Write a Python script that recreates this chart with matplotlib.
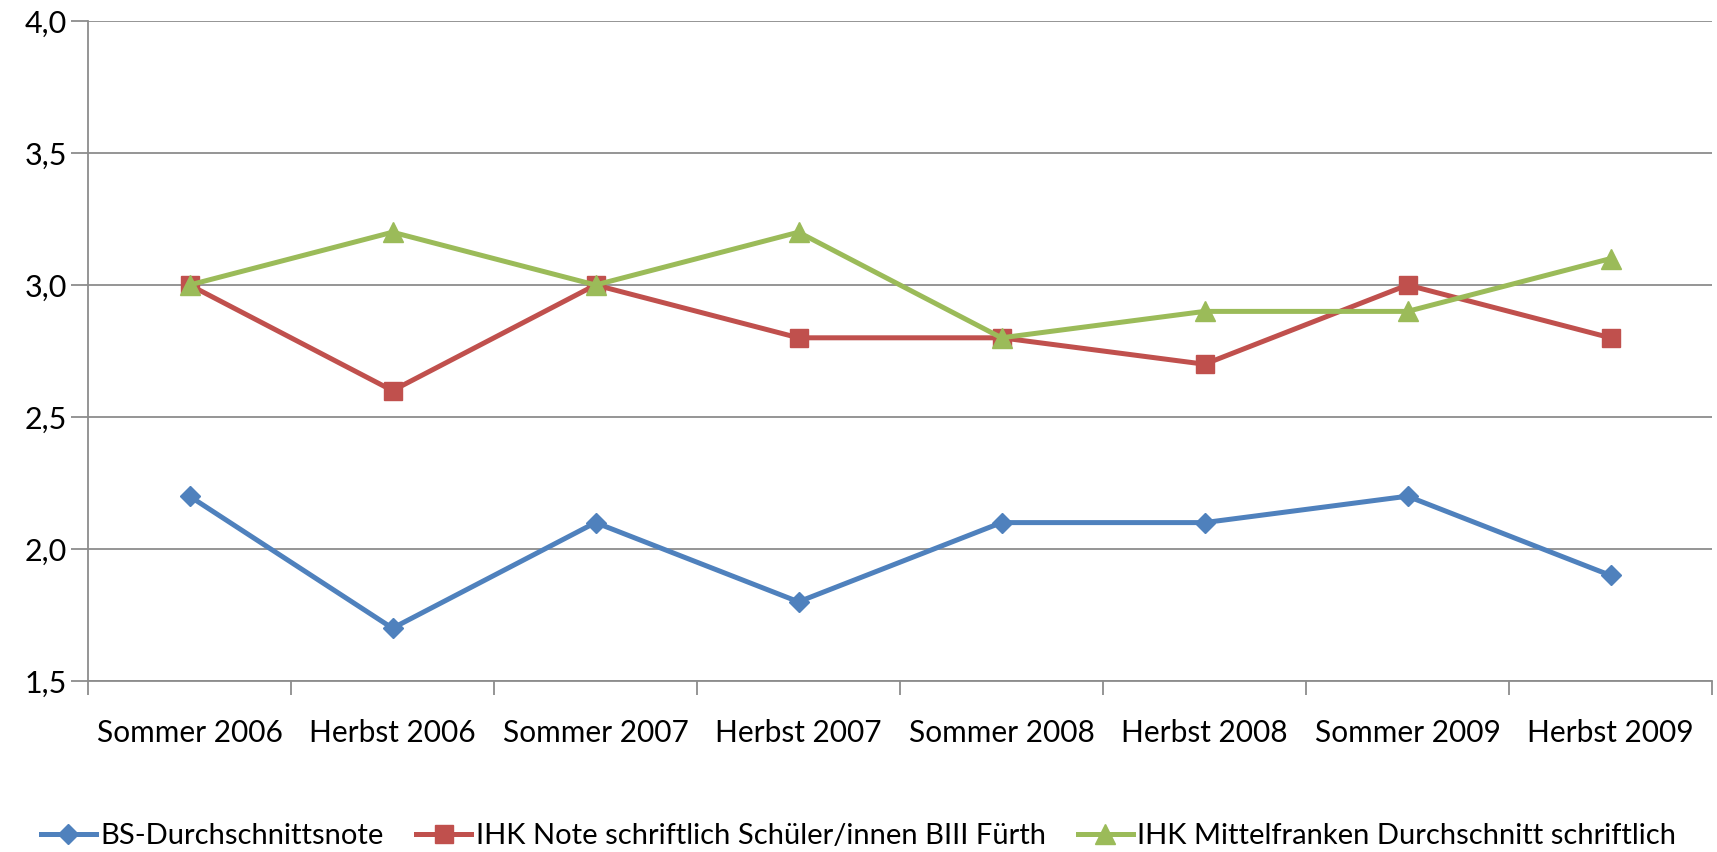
import matplotlib
matplotlib.use("Agg")
import matplotlib.pyplot as plt
import numpy as np

# Chart data
categories = ["Sommer 2006", "Herbst 2006", "Sommer 2007", "Herbst 2007",
              "Sommer 2008", "Herbst 2008", "Sommer 2009", "Herbst 2009"]
bs_note = [2.2, 1.7, 2.1, 1.8, 2.1, 2.1, 2.2, 1.9]
ihk_fuerth = [3.0, 2.6, 3.0, 2.8, 2.8, 2.7, 3.0, 2.8]
ihk_mittelfranken = [3.0, 3.2, 3.0, 3.2, 2.8, 2.9, 2.9, 3.1]
y_ticks = [1.5, 2.0, 2.5, 3.0, 3.5, 4.0]

plt.rcParams['font.family'] = ['Lato', 'DejaVu Sans']

fig = plt.figure(figsize=(17.17, 8.52), dpi=100)
ax = fig.add_axes([88 / 1717, 1 - 681 / 852, (1712 - 88) / 1717, (681 - 21) / 852])

x = np.arange(len(categories))
ax.plot(x, bs_note, color="#4F81BD", lw=3.6, marker="D", ms=10,
        label="BS-Durchschnittsnote", zorder=3)
ax.plot(x, ihk_fuerth, color="#C0504D", lw=3.6, marker="s", ms=13,
        label="IHK Note schriftlich Schüler/innen BIII Fürth", zorder=3)
ax.plot(x, ihk_mittelfranken, color="#9BBB59", lw=3.6, marker="^", ms=14,
        label="IHK Mittelfranken Durchschnitt schriftlich", zorder=4)

ax.set_xlim(-0.5, len(categories) - 0.5)
ax.set_ylim(1.5, 4.0)
ax.set_yticks(y_ticks)
ax.set_yticklabels([f"{v:.1f}".replace(".", ",") for v in y_ticks], fontsize=22)
ax.yaxis.grid(True, color="#8C8C8C", lw=1.3)
ax.set_axisbelow(True)

ax.set_xticks(x)
ax.set_xticklabels(categories, fontsize=21.5)
ax.set_xticks(np.arange(-0.5, len(categories)), minor=True)
ax.tick_params(axis="x", which="major", length=0, pad=27)
ax.tick_params(axis="x", which="minor", length=10, width=1.3, color="#8C8C8C")
ax.tick_params(axis="y", length=12, width=1.3, color="#8C8C8C", pad=3)

for side in ["top", "right"]:
    ax.spines[side].set_visible(False)
for side in ["left", "bottom"]:
    ax.spines[side].set_color("#8C8C8C")
    ax.spines[side].set_linewidth(1.3)

fig.legend(loc="center", bbox_to_anchor=(0.5, 1 - 836 / 852), ncol=3,
           frameon=False, fontsize=21, handlelength=1.9, handletextpad=0.15,
           columnspacing=1.1, borderaxespad=0)

fig.savefig("out.png", dpi=100, facecolor="white")
